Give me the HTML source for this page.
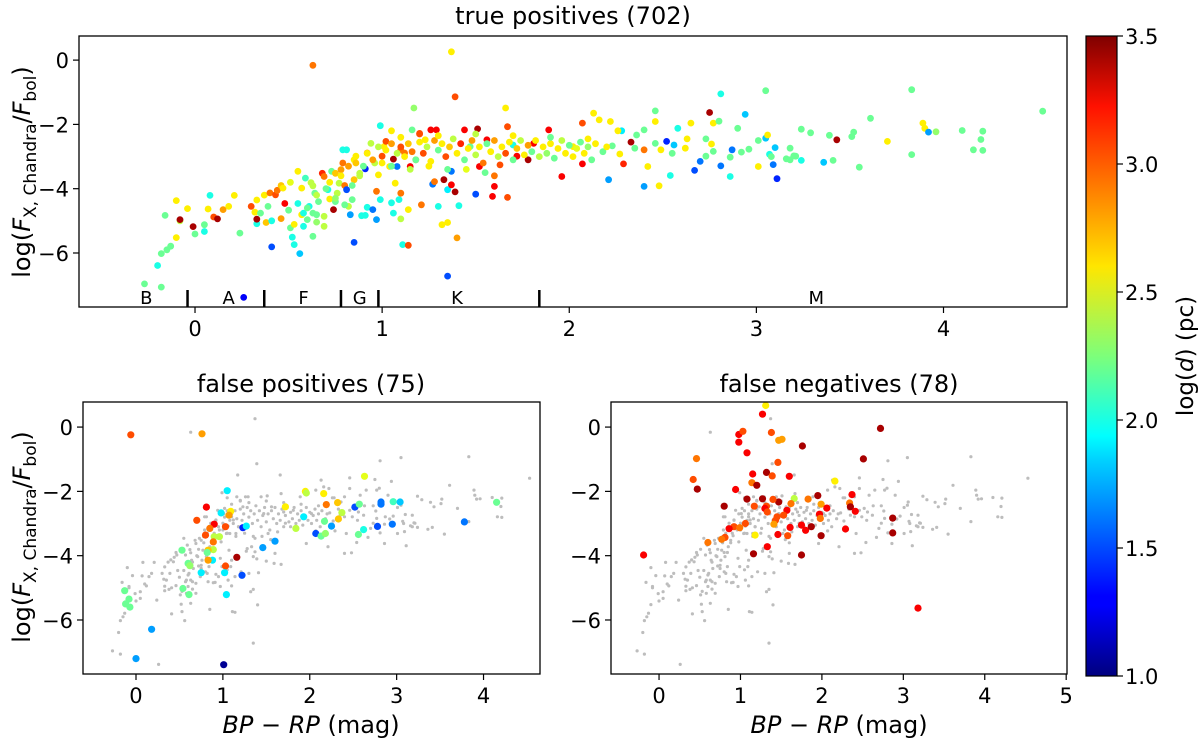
<!DOCTYPE html>
<html><head><meta charset="utf-8"><style>
html,body{margin:0;padding:0;background:#fff}
svg{display:block;font-family:"DejaVu Sans","Liberation Sans",sans-serif}
</style></head><body>
<svg id="fig" width="1200" height="747" viewBox="0 0 1200 747">
<defs>
<linearGradient id="jet" x1="0" y1="1" x2="0" y2="0">
<stop offset="0" stop-color="#00007f"/><stop offset="0.11" stop-color="#0000ff"/><stop offset="0.125" stop-color="#0000ff"/>
<stop offset="0.34" stop-color="#00d4ff"/><stop offset="0.375" stop-color="#00ffff"/><stop offset="0.5" stop-color="#7dff7a"/>
<stop offset="0.64" stop-color="#ffe600"/><stop offset="0.66" stop-color="#ffd400"/><stop offset="0.89" stop-color="#ff1100"/><stop offset="1" stop-color="#7f0000"/>
</linearGradient>
</defs>
<g id="root"></g>
</svg>
<script>
// true positives: [bp-rp, logFx/Fbol, log d]
const tpData = [
[-0.27,-6.96,2.2],[-0.18,-7.06,2.2],[-0.20,-6.39,2.0],[-0.18,-6.02,2.2],[-0.15,-5.9,2.2],[-0.13,-5.79,2.2],[-0.10,-5.52,2.6],[-0.16,-4.83,2.2],[-0.10,-4.37,2.6],[-0.08,-5.0,2.4],[-0.08,-4.96,3.4],[-0.04,-4.62,2.6],[-0.01,-5.18,3.4],[0,-5.41,2.2],[0.05,-5.33,2.0],[0.05,-5.12,2.2],[0.07,-4.63,2.6],[0.08,-4.21,2.0],[0.10,-4.88,3.0],[0.12,-4.94,3.4],[0.15,-4.65,2.8],[0.18,-4.55,2.6],[0.21,-4.21,2.6],[0.24,-5.38,2.2],[0.26,-7.38,1.3],[0.30,-4.55,3.0],[0.32,-4.73,2.6],[0.33,-4.35,2.6],[0.33,-5.09,2.0],[0.33,-4.95,3.4],[0.35,-4.76,2.2],[0.37,-4.20,2.6],[0.38,-5.05,2.7],[0.39,-4.55,2.2],[0.40,-4.13,2.9],[0.41,-5.0,2.0],[0.41,-5.81,1.5],[0.43,-4.19,3.0],[0.44,-4.05,2.9],[0.46,-3.9,2.7],[0.46,-4.93,2.8],[0.48,-4.46,3.2],[0.47,-3.98,2.6],[0.50,-4.67,2.2],[0.51,-3.80,2.5],[0.51,-5.22,2.2],[0.52,-5.51,2.0],[0.53,-5.11,2.6],[0.53,-5.74,2.0],[0.55,-3.46,2.6],[0.55,-4.46,2.0],[0.56,-6.02,1.8],[0.57,-3.98,2.6],[0.57,-4.81,2.6],[0.58,-5.17,2.0],[0.58,-4.76,2.0],[0.59,-3.67,2.1],[0.60,-4.96,2.2],[0.61,-4.55,2.0],[0.62,-3.81,2.4],[0.63,-0.16,2.9],[0.63,-4.76,2.2],[0.63,-5.48,2.2],[0.63,-3.91,2.4],[0.64,-4.14,2.2],[0.65,-4.81,2.2],[0.65,-5.04,2.3],[0.66,-4.4,2.2],[0.68,-3.52,3.1],[0.69,-3.62,2.9],[0.69,-4.86,2.4],[0.69,-5.17,2.4],[0.71,-4.03,2.0],[0.72,-4.32,2.6],[0.73,-3.46,2.2],[0.74,-4.65,3.4],[0.75,-4.4,2.2],[0.75,-3.52,2.7],[0.76,-4.14,2.4],[0.77,-3.83,2.4],[0.78,-3.41,2.8],[0.79,-2.79,2.0],[0.79,-3.2,2.9],[0.80,-3.9,2.9],[0.81,-4.03,1.5],[0.81,-2.79,2.0],[0.82,-4.55,2.4],[0.83,-4.81,1.7],[0.84,-4.34,2.2],[0.85,-3.72,2.7],[0.85,-5.67,1.5],[0.85,-3.10,2.6],[0.86,-2.99,2.6],[0.88,-3.52,2.4],[0.89,-4.84,2.0],[0.91,-3.38,1.4],[0.92,-2.89,2.9],[0.91,-4.83,2.0],[0.92,-4.58,2.0],[0.94,-2.59,2.4],[0.95,-4.65,1.6],[0.96,-3.2,2.4],[0.97,-4.08,2.9],[0.97,-4.96,1.7],[0.98,-3.57,2.6],[0.99,-2.04,2.0],[0.99,-4.34,2.0],[1.0,-2.99,3.0],[1.01,-2.69,2.6],[1.02,-2.53,3.0],[1.04,-3.31,2.6],[1.05,-2.2,2.6],[1.05,-4.44,2.0],[1.06,-4.76,2.0],[1.06,-3.08,3.4],[1.07,-3.83,2.6],[1.08,-3.31,1.6],[1.09,-4.34,2.0],[1.10,-4.14,2.9],[1.10,-4.94,2.4],[1.10,-2.79,2.9],[1.11,-5.74,2.0],[1.12,-2.89,2.9],[1.14,-5.76,3.0],[1.14,-4.65,2.6],[1.15,-3.31,3.2],[1.16,-2.17,2.2],[1.17,-1.49,2.3],[1.18,-3.1,2.9],[1.20,-2.28,3.0],[1.21,-4.5,2.9],[1.23,-2.48,2.6],[1.26,-2.17,3.2],[1.27,-3.86,1.6],[1.28,-3.78,2.9],[1.29,-2.17,3.2],[1.30,-4.55,2.0],[1.32,-5.12,2.6],[1.33,-3.72,3.4],[1.35,-6.72,1.5],[1.35,-4.03,1.9],[1.35,-5.05,2.6],[1.37,-3.88,3.2],[1.37,0.26,2.6],[1.37,-3.46,1.6],[1.39,-1.14,3.0],[1.39,-4.1,3.4],[1.40,-5.53,2.8],[1.41,-4.53,2.0],[1.44,-2.17,3.2],[1.47,-2.69,2.2],[1.50,-4.17,1.5],[1.51,-2.14,3.4],[1.52,-3.31,3.2],[1.56,-2.48,3.2],[1.59,-4.24,3.2],[1.60,-3.93,3.2],[1.60,-3.6,2.9],[1.63,-3.26,3.0],[1.66,-1.49,2.6],[1.67,-4.27,3.0],[1.67,-2.07,3.0],[1.70,-2.64,2.0],[1.72,-2.99,3.2],[1.78,-3.1,3.4],[1.81,-2.59,3.2],[1.89,-2.17,3.2],[1.96,-3.62,3.2],[2.02,-2.69,2.6],[2.07,-1.96,3.0],[2.07,-3.23,3.2],[2.13,-1.65,2.6],
[2.16,-1.86,2.6],[2.22,-1.91,2.6],[2.28,-2.2,1.9],[2.33,-2.55,3.4],[2.29,-3.23,3.1],[2.21,-3.72,1.7],[2.40,-3.93,1.7],[2.48,-3.91,2.6],[2.46,-1.58,2.2],[2.46,-1.91,2.6],[2.42,-3.31,2.6],[2.52,-2.53,1.4],[2.54,-3.59,2.0],[2.58,-2.12,2.0],[2.65,-1.96,2.6],[2.67,-3.43,1.5],[2.70,-3.15,1.6],[2.75,-1.63,3.4],[2.77,-1.96,2.6],[2.80,-1.9,2.2],[2.81,-1.05,2.0],[2.81,-3.29,1.6],[2.86,-3.62,2.0],[2.87,-2.79,1.6],[2.90,-2.12,2.2],[2.94,-1.69,1.8],[3.01,-2.5,2.2],[3.01,-3.31,2.6],[3.05,-0.95,2.2],[3.05,-2.43,1.8],[3.06,-2.33,2.6],[3.07,-2.93,2.0],[3.09,-3.25,1.6],[3.10,-2.72,1.8],[3.11,-3.69,1.4],[3.16,-3.07,2.2],[3.18,-2.74,2.2],[3.21,-2.99,2.2],[3.24,-2.15,2.2],[3.24,-3.12,2.0],[3.29,-2.26,2.2],[3.36,-3.18,1.8],[3.39,-2.34,2.2],[3.41,-3.12,2.2],[3.43,-2.48,3.4],[3.51,-2.38,2.2],[3.52,-2.24,2.2],[3.55,-3.33,2.2],[3.61,-1.81,2.2],[3.70,-2.53,2.6],[3.83,-0.92,2.2],[3.83,-2.94,2.2],[3.89,-1.96,2.6],[3.90,-2.12,2.6],[3.92,-2.24,1.7],[3.96,-2.23,2.3],[4.10,-2.19,2.2],[4.16,-2.79,2.2],[4.21,-2.21,2.2],[4.20,-2.47,2.2],[4.21,-2.81,2.2],[4.53,-1.59,2.2],
[2.73,-2.45,2.2],[2.76,-2.61,2.6],[2.63,-2.45,2.6],[2.56,-2.64,1.8],[2.46,-2.59,2.2],[2.40,-2.17,2.2],[2.36,-2.33,2.2],[2.26,-2.2,2.6],[2.23,-2.67,2.2],[2.27,-2.92,2.6],[2.35,-2.74,2.2],[2.40,-2.79,2.9],[2.49,-2.79,2.6],[2.55,-2.9,2.2],[2.62,-2.74,2.6],[2.73,-2.99,2.2],[2.77,-2.84,2.2],[2.86,-3.02,2.2],[2.92,-2.86,2.2],[2.96,-2.77,2.2],[3.18,-3.1,2.2],[3.2,-2.98,2.2],[3.08,-3.0,2.2],
[1.02,-2.8,2.6],[1.05,-2.6,2.8],[1.08,-2.9,2.4],[1.1,-2.7,3.0],[1.12,-3.0,2.6],[1.14,-2.6,2.7],[1.16,-2.85,2.9],[1.18,-3.1,2.2],[1.2,-2.55,2.6],[1.22,-2.9,3.0],[1.24,-2.7,2.4],[1.26,-3.15,2.6],[1.28,-2.5,2.8],[1.3,-2.8,2.2],[1.32,-2.6,2.6],[1.34,-3.0,3.0],[1.36,-2.7,2.7],[1.38,-2.45,2.4],[1.4,-2.9,2.6],[1.42,-2.6,3.1],[1.44,-3.1,2.2],[1.46,-2.75,2.6],[1.48,-2.5,2.8],[1.5,-2.95,2.4],[1.52,-2.7,2.6],[1.54,-3.2,2.9],[1.56,-2.6,2.2],[1.58,-2.85,2.6],[1.6,-2.5,2.8],[1.62,-3.0,2.4],[1.64,-2.7,2.6],[1.66,-2.9,3.0],[1.68,-2.55,2.6],[1.7,-3.1,2.2],[1.72,-2.75,2.7],[1.74,-2.5,2.4],[1.76,-2.95,2.6],[1.78,-2.65,2.8],[1.8,-2.85,2.2],[1.82,-2.5,2.6],[1.84,-3.0,2.4],[1.86,-2.7,2.6],[1.88,-2.9,2.3],[1.9,-2.6,2.6],[1.92,-3.05,2.2],[1.94,-2.75,2.6],[1.96,-2.5,2.4],[1.98,-2.9,2.6],[2.0,-2.65,2.2],[2.02,-3.0,2.6],[2.04,-2.75,2.5],[2.06,-2.55,2.2],[2.08,-2.9,2.6],[2.1,-2.7,2.3],[2.12,-3.1,2.2],[2.14,-2.6,2.6],[2.18,-2.85,2.2],[2.2,-2.7,2.6],[0.92,-2.9,2.6],[0.95,-3.1,2.8],[0.98,-2.7,2.4],[1.0,-3.2,2.6],[0.9,-3.3,2.2],[0.88,-3.6,2.4],[0.86,-3.2,2.7],[0.84,-3.9,2.2],[1.05,-3.3,2.2],[1.15,-3.4,2.4],[1.25,-3.3,2.6],[1.35,-3.4,2.2],[1.45,-3.4,2.5],[1.55,-3.5,2.2],[1.1,-2.4,2.6],[1.2,-2.3,3.0],[1.3,-2.35,2.6],[1.5,-2.3,2.4],[1.7,-2.35,2.6],[1.9,-2.4,2.2],[2.1,-2.45,2.6],[0.7,-4.0,2.2],[0.75,-4.3,2.3],[0.8,-4.5,2.2],[0.65,-4.2,2.4],[0.6,-4.6,2.2],[0.72,-3.8,2.6],[0.78,-3.6,2.6],[0.82,-3.3,2.8]
];
const fpData = [
[-0.06,-0.24,3.0],[0.76,-0.21,2.8],[1.05,-1.98,1.9],[0.81,-2.49,3.2],[0.98,-2.67,1.9],[1.09,-2.62,2.6],[1.07,-2.74,2.8],[0.70,-2.9,3.0],[0.90,-3.02,3.2],[1.03,-3.1,3.0],[0.85,-3.15,2.9],[1.23,-3.13,1.4],[1.27,-3.08,1.9],[0.80,-3.36,3.0],[0.90,-3.41,2.4],[0.96,-3.41,2.4],[0.89,-3.57,2.9],[0.89,-3.81,2.4],[0.83,-3.83,2.7],[0.82,-3.9,2.2],[0.88,-4.14,1.9],[0.83,-4.14,2.8],[1.16,-4.05,3.4],[1.03,-4.32,3.0],[0.75,-4.53,1.9],[1.02,-4.53,1.9],[1.22,-4.61,1.5],[1.04,-5.21,1.9],[0.53,-3.83,2.2],[0.60,-4.24,2.2],[0.62,-4.31,2.3],[0.54,-5.02,2.2],[0.61,-5.21,2.2],[-0.13,-5.09,2.2],[-0.08,-5.35,2.2],[-0.12,-5.5,2.2],[-0.07,-5.6,2.2],[0.18,-6.29,1.7],[0.0,-7.2,1.7],[1.01,-7.39,1.05],[1.46,-3.75,1.7],[1.60,-3.55,1.7],[1.72,-2.48,2.6],[1.84,-3.15,2.4],[1.93,-2.79,1.9],[1.95,-2.0,2.6],[1.96,-2.05,2.4],[2.07,-3.31,1.5],[2.13,-3.39,2.2],[2.16,-2.07,2.6],[2.17,-2.93,2.2],[2.18,-3.31,2.3],[2.19,-2.41,2.9],[2.25,-3.08,1.7],[2.32,-2.35,2.7],[2.33,-2.86,2.7],[2.37,-2.66,2.4],[2.52,-2.49,1.5],[2.56,-3.34,2.2],[2.57,-2.4,2.2],[2.62,-3.19,2.0],[2.63,-1.53,2.5],[2.78,-3.09,1.5],[2.82,-2.33,1.6],[2.82,-2.4,1.6],[2.95,-3.02,1.6],[2.96,-2.32,2.1],[3.04,-2.33,1.8],[3.78,-2.95,1.6],[4.15,-2.34,2.2]
];
const fnData = [
[-0.19,-3.98,3.2],[1.31,0.67,2.6],[1.27,0.40,3.2],[0.98,-0.23,3.2],[1.03,-0.13,3.0],[0.98,-0.47,3.2],[1.38,-0.17,3.0],[1.47,-0.41,2.8],[1.51,-0.38,2.8],[1.76,-0.59,3.4],[2.72,-0.04,3.4],[1.08,-0.8,3.2],[0.46,-0.98,2.9],[1.46,-1.10,3.0],[2.51,-0.99,3.4],[1.32,-1.41,3.4],[1.15,-1.46,3.2],[1.39,-1.52,3.0],[1.60,-1.53,3.2],[0.42,-1.63,3.0],[1.14,-1.73,2.9],[1.20,-1.81,3.4],[2.16,-1.68,2.6],[0.47,-1.93,3.4],[0.94,-1.94,3.2],[1.08,-2.24,3.4],[1.27,-2.23,3.4],[1.47,-2.33,3.4],[1.66,-2.22,2.4],[1.95,-2.13,3.4],[2.37,-2.1,3.2],[0.80,-2.46,3.4],[1.17,-2.46,3.0],[1.32,-2.46,3.0],[1.40,-2.25,3.0],[1.30,-2.53,3.2],[1.33,-2.64,3.0],[1.62,-2.38,2.9],[1.83,-2.24,2.9],[1.99,-2.4,2.8],[2.06,-2.52,3.2],[2.34,-2.36,2.9],[2.35,-2.48,3.4],[2.41,-2.62,3.2],[1.57,-2.59,3.2],[1.53,-2.74,3.0],[1.45,-2.79,3.0],[1.43,-2.9,3.0],[1.97,-2.71,3.2],[1.98,-2.84,2.9],[1.41,-3.02,2.8],[1.06,-3.0,3.0],[0.92,-3.1,3.0],[0.99,-3.13,2.9],[0.86,-3.16,3.2],[1.61,-3.12,3.2],[1.75,-3.05,3.2],[1.80,-3.21,3.2],[1.87,-3.1,3.4],[2.29,-3.17,3.2],[2.87,-2.83,3.4],[2.87,-3.29,3.4],[1.18,-3.36,2.6],[1.46,-3.34,3.2],[1.58,-3.38,3.0],[1.99,-3.38,3.4],[0.81,-3.43,3.0],[0.77,-3.49,2.9],[0.60,-3.59,2.9],[1.33,-3.72,3.2],[1.16,-3.94,3.4],[1.75,-3.98,3.4],[3.18,-5.63,3.2]
];
const yTicks = [0,-2,-4,-6];
const xTicksTop = [0,1,2,3,4];
const xTicksBR = [0,1,2,3,4,5];
const cbTicks = [1.0,1.5,2.0,2.5,3.0,3.5];
const specBounds = [-0.04,0.37,0.78,0.98,1.84];
const specLabels = [["B",-0.26],["A",0.18],["F",0.58],["G",0.88],["K",1.4],["M",3.32]];

const NS="http://www.w3.org/2000/svg";
const root=document.getElementById('root');
function mk(tag,attrs,parent){const e=document.createElementNS(NS,tag);for(const k in attrs)e.setAttribute(k,attrs[k]);(parent||root).appendChild(e);return e;}
function jet(c){let t=(c-1)/2.5;t=Math.max(0,Math.min(1,t));
 const f=v=>Math.round(255*Math.max(0,Math.min(1,v)));
 return `rgb(${f(1.5-Math.abs(4*t-3))},${f(1.5-Math.abs(4*t-2))},${f(1.5-Math.abs(4*t-1))})`;}

function panel(name,box,xmin,xmax,ymin,ymax,xticks){
 const g=mk('g',{});
 
 
 const sx=v=>box.x0+(v-xmin)/(xmax-xmin)*(box.x1-box.x0);
 const sy=v=>box.y1-(v-ymin)/(ymax-ymin)*(box.y1-box.y0);
 return {g,sx,sy,box,xticks};
}
function axes(p){
 const {g,sx,sy,box}=p;
 for(const t of yTicks){
  const y=sy(t);
  const l=mk('line',{x1:box.x0-6,x2:box.x0,y1:y,y2:y,stroke:'#000','stroke-width':1.2},g);
  
  
  const tx=mk('text',{x:box.x0-10,y:y+8,'text-anchor':'end','font-size':21},g);
  
  
  tx.textContent=(t<0?'\u2212'+(-t):t);
 }
 for(const t of p.xticks){
  const x=sx(t);
  const l=mk('line',{x1:x,x2:x,y1:box.y1,y2:box.y1+6,stroke:'#000','stroke-width':1.2},g);
  
  
  const tx=mk('text',{x:x,y:box.y1+29,'text-anchor':'middle','font-size':21},g);
  
  
  tx.textContent=t;
 }
 const r=mk('rect',{x:box.x0,y:box.y0,width:box.x1-box.x0,height:box.y1-box.y0,fill:'none',stroke:'#000','stroke-width':1.3},g);
 
 
}
function dots(p,data,r,gray,name){
 const {g,sx,sy,box}=p;
 for(const d of data){
  const x=sx(d[0]),y=sy(d[1]);
  if(x<box.x0||x>box.x1||y<box.y0-2||y>box.y1)continue;
  const c=mk('circle',{cx:x.toFixed(1),cy:y.toFixed(1),r:r,fill:gray?'#bdbdbd':jet(d[2])},g);
  
  
 }
}
function title(x,y,s,name){const t=mk('text',{x:x,y:y,'text-anchor':'middle','font-size':24});t.textContent=s;}
function ylab(cx,cy){
 const t=mk('text',{transform:`translate(30,${cy}) rotate(-90)`,'text-anchor':'middle','font-size':24});
 
 
 t.innerHTML='log(<tspan font-style="italic">F</tspan><tspan font-size="17" dy="6">X, Chandra</tspan><tspan dy="-6">/</tspan><tspan font-style="italic">F</tspan><tspan font-size="17" dy="6">bol</tspan><tspan dy="-6">)</tspan>';
}
function xlab(cx){
 const t=mk('text',{x:cx,y:733,'text-anchor':'middle','font-size':24});
 
 
 t.innerHTML='<tspan font-style="italic">BP</tspan> \u2212 <tspan font-style="italic">RP</tspan> (mag)';
}

// top panel
const topP=panel('true-positives-panel',{x0:79,x1:1067,y0:36,y1:307},-0.62,4.66,-7.68,0.75,xTicksTop);
dots(topP,tpData,3.4,false,'true-positive-point');
for(const b of specBounds){const x=topP.sx(b);const l=mk('line',{x1:x,x2:x,y1:290,y2:307,stroke:'#000','stroke-width':2.5},topP.g);}
for(const s of specLabels){const t=mk('text',{x:topP.sx(s[1]),y:304,'text-anchor':'middle','font-size':18},topP.g);t.textContent=s[0];}
axes(topP);
title(573,24,'true positives (702)','top-title');
ylab(30,172);

// bottom left
const blP=panel('false-positives-panel',{x0:83,x1:540,y0:402,y1:674},-0.61,4.65,-7.68,0.78,xTicksTop);
dots(blP,tpData,1.6,true,'background-point');
dots(blP,fpData,3.6,false,'false-positive-point');
axes(blP);
title(311,392,'false positives (75)','false-positives-title');
ylab(30,537);
xlab(311);

// bottom right
const brP=panel('false-negatives-panel',{x0:611,x1:1067,y0:402,y1:674},-0.59,5.01,-7.68,0.78,xTicksBR);
dots(brP,tpData,1.6,true,'background-point');
dots(brP,fnData,3.6,false,'false-negative-point');
axes(brP);
title(839,392,'false negatives (78)','false-negatives-title');
xlab(839);

// colorbar
const cbG=mk('g',{});


const cbY=v=>676-(v-1)/2.5*(676-36);
const cr=mk('rect',{x:1086,y:36,width:31,height:640,fill:'url(#jet)',stroke:'#000','stroke-width':1.2},cbG);


for(const t of cbTicks){
 const l=mk('line',{x1:1117,x2:1123,y1:cbY(t),y2:cbY(t),stroke:'#000','stroke-width':1.2},cbG);
 
 
 const tx=mk('text',{x:1125,y:cbY(t)+8,'font-size':21},cbG);
 
 
 tx.textContent=t.toFixed(1);
}
const cl=mk('text',{transform:'translate(1193,356) rotate(-90)','text-anchor':'middle','font-size':23},cbG);


cl.innerHTML='log(<tspan font-style="italic">d</tspan>) (pc)';
</script>
</body></html>
